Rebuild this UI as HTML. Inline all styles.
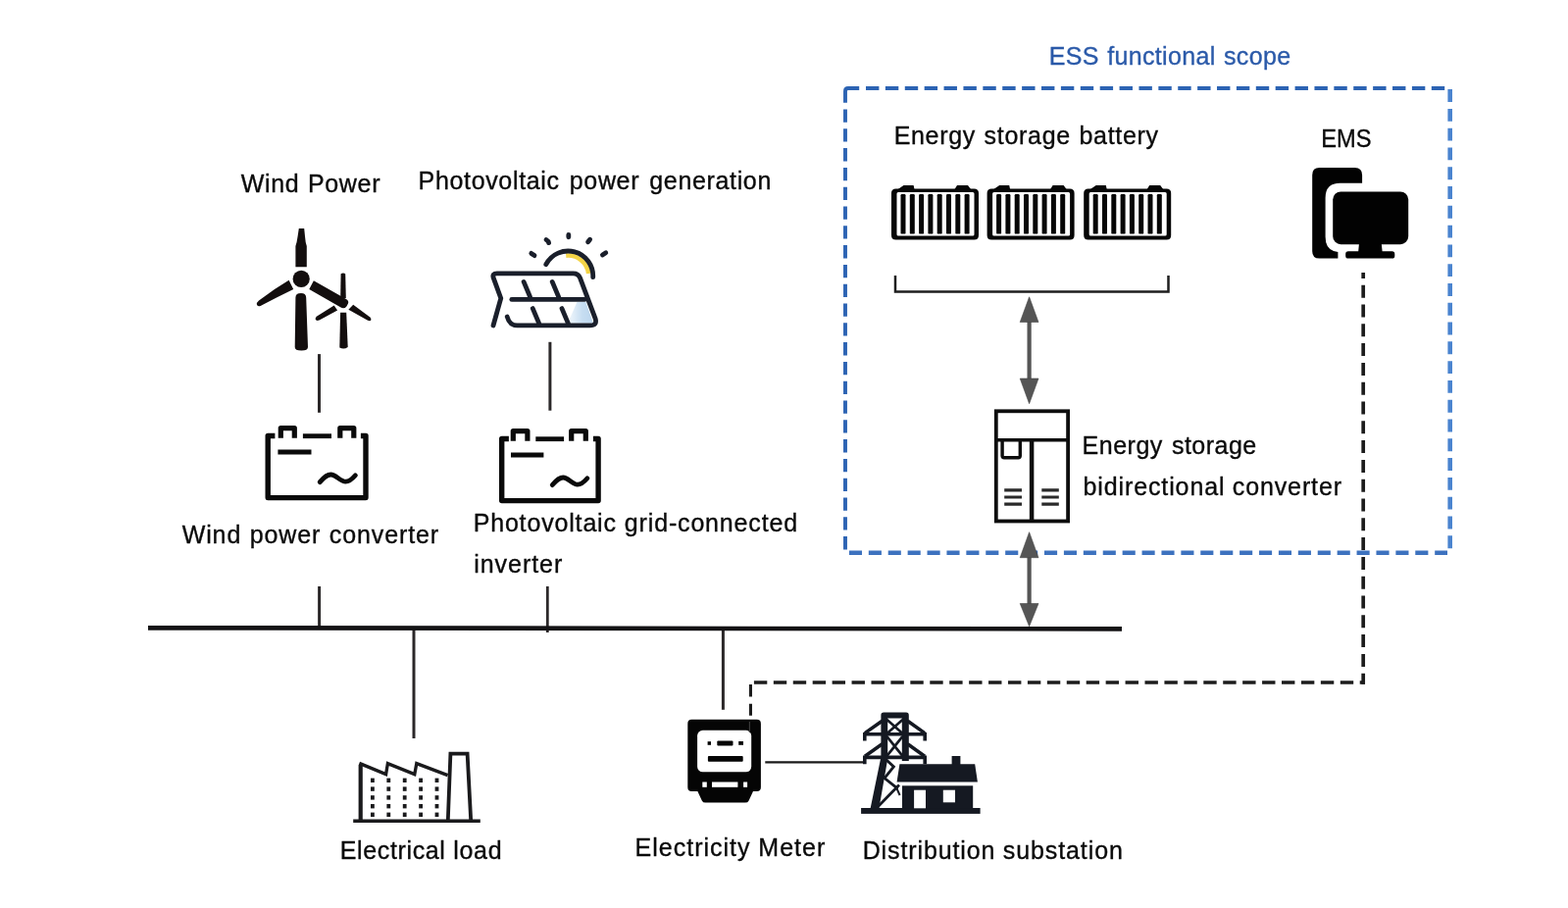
<!DOCTYPE html>
<html lang="en">
<head>
<meta charset="utf-8">
<title>ESS functional scope</title>
<style>
html,body{margin:0;padding:0;background:#fff;}
body{width:1599px;height:926px;overflow:hidden;position:relative;}
svg{position:absolute;left:0;top:0;display:block;will-change:transform;}
text{font-family:"Liberation Sans",sans-serif;font-size:25px;fill:#0a0a0a;word-spacing:3px;stroke:#0a0a0a;stroke-width:0.35px;}
.blue{fill:#2b5aa9;stroke:#2b5aa9;}
</style>
</head>
<body>
<svg width="1599" height="926" viewBox="0 0 1599 926">
<rect width="1599" height="926" fill="#ffffff"/>

<!-- ===== connection lines ===== -->
<g stroke="#2b2829" stroke-width="3" fill="none">
  <line x1="325.5" y1="361.1" x2="325.5" y2="420.8"/>
  <line x1="325.6" y1="598" x2="325.6" y2="640"/>
  <line x1="560.9" y1="348.8" x2="560.9" y2="418.7"/>
  <line x1="558.3" y1="598" x2="558.3" y2="645" stroke-width="2.8"/>
  <line x1="422" y1="640" x2="422" y2="753"/>
  <line x1="737.4" y1="640" x2="737.4" y2="723.8"/>
  <line x1="780.3" y1="777.4" x2="882" y2="777.4" stroke="#1a1a1a" stroke-width="2.2"/>
</g>
<!-- bus -->
<line x1="151" y1="640.3" x2="1144" y2="641.4" stroke="#141315" stroke-width="4.7"/>

<!-- ESS dashed box -->
<g fill="none" stroke-linecap="butt">
  <path d="M862 104.7 V93 Q862 90 865 90 H876.2" stroke="#2c63b3" stroke-width="3.9"/>
  <path d="M883 90 H1473.7" stroke="#2c63b3" stroke-width="3.8" stroke-dasharray="13.4 6.49"/>
  <path d="M862 111.5 V561" stroke="#2c63b3" stroke-width="3.9" stroke-dasharray="13.3 6.5"/>
  <path d="M865.9 563.7 H1476" stroke="#3d72bf" stroke-width="4.5" stroke-dasharray="13.1 6.81"/>
  <path d="M1478.7 91.1 V560" stroke="#4a84cf" stroke-width="4.6" stroke-dasharray="12.9 6.89"/>
</g>

<!-- EMS dashed link -->
<g fill="none" stroke="#1c1c1c" stroke-width="3.5">
  <path d="M1390.2 278 V697.7" stroke-width="3.7" stroke-dasharray="13 6.8" stroke-dashoffset="7.1"/>
  <path d="M768.9 695.9 H1392" stroke-dasharray="13.4 6.53"/>
  <path d="M765.45 698 V729.8" stroke-width="3.1" stroke-dasharray="12.6 7.1"/>
</g>

<!-- bracket -->
<path d="M913 281 V297.4 H1191.5 V281" fill="none" stroke="#1e1e1e" stroke-width="2.5"/>

<!-- arrows -->
<g fill="#555555" stroke="#444" stroke-width="0.6" stroke-linejoin="round">
  <rect x="1047.5" y="325" width="4.2" height="65" stroke="none"/>
  <polygon points="1049.6,302.8 1059,328.5 1040.2,328.5"/>
  <polygon points="1049.6,411.7 1059,386 1040.2,386"/>
  <rect x="1047.5" y="565" width="4.2" height="54" stroke="none"/>
  <polygon points="1049.6,542.7 1059,568.7 1040.2,568.7"/>
  <polygon points="1049.6,638.8 1059,615.5 1040.2,615.5"/>
</g>

<!-- ===== text ===== -->
<g id="labels">
<text x="245.69" y="195.5" textLength="141.80" lengthAdjust="spacing" style="word-spacing:0.94px">Wind Power</text>
<text x="426.62" y="192.9" textLength="359.70" lengthAdjust="spacing" style="word-spacing:2.54px">Photovoltaic power generation</text>
<text x="185.67" y="553.9" textLength="261.51" lengthAdjust="spacing" style="word-spacing:0.73px">Wind power converter</text>
<text x="482.63" y="541.8" textLength="330.45" lengthAdjust="spacing" style="word-spacing:0.24px">Photovoltaic grid-connected</text>
<text x="483.15" y="584.0" textLength="90.15" lengthAdjust="spacing" style="word-spacing:1.00px">inverter</text>
<text class="blue" x="1069.73" y="65.6" textLength="246.31" lengthAdjust="spacing" style="word-spacing:1.09px">ESS functional scope</text>
<text x="911.63" y="146.9" textLength="269.45" lengthAdjust="spacing" style="word-spacing:0.93px">Energy storage battery</text>
<text x="1347.15" y="149.8" textLength="51.29" lengthAdjust="spacingAndGlyphs">EMS</text>
<text x="1103.62" y="462.5" textLength="177.66" lengthAdjust="spacing" style="word-spacing:1.72px">Energy storage</text>
<text x="1104.51" y="504.6" textLength="263.52" lengthAdjust="spacing" style="word-spacing:-0.45px">bidirectional converter</text>
<text x="346.63" y="875.7" textLength="164.95" lengthAdjust="spacing" style="word-spacing:0.17px">Electrical load</text>
<text x="647.62" y="872.8" textLength="193.59" lengthAdjust="spacing" style="word-spacing:0.03px">Electricity Meter</text>
<text x="879.63" y="876.1" textLength="265.22" lengthAdjust="spacing" style="word-spacing:-0.36px">Distribution substation</text>
</g>
<!-- ICONS -->
<defs>
  <g id="conv" fill="none" stroke="#0a0a0a" stroke-width="5.2" stroke-linejoin="round">
    <path d="M10 10.3 H2.8 V73.4 H102.6 V10.3 H97.5" stroke-width="5.4"/>
    <path d="M15.9 12.5 V2.4 H29.9 V12.5"/>
    <path d="M76.4 12.5 V2.4 H90.4 V12.5"/>
    <path d="M38.5 10.5 H67.6" stroke-width="4.8"/>
    <path d="M13 26.8 H47.1" stroke-width="5"/>
    <path d="M55.8 57.4 C59.5 53 63 49.8 67 49.8 C72 49.8 77 57 82 57 C86 57 89.5 53.5 92 50.6" stroke-width="4.8" stroke-linecap="round"/>
  </g>
  <g id="conv2" fill="none" stroke="#0a0a0a" stroke-width="5.2" stroke-linejoin="round">
    <path d="M10 10.3 H2.8 V73.4 H101.2 V10.3 H96" stroke-width="5.4"/>
    <path d="M14.4 12.5 V2.4 H29 V12.5"/>
    <path d="M73.8 12.5 V2.4 H88.4 V12.5"/>
    <path d="M37.4 10.5 H66.2" stroke-width="4.8"/>
    <path d="M12.1 26.8 H45.5" stroke-width="5"/>
    <path d="M54.4 57.4 C58 53 61.5 49.8 65.4 49.8 C70.4 49.8 75 57 80 57 C84 57 87.5 53.5 90 50.6" stroke-width="4.8" stroke-linecap="round"/>
  </g>
  <g id="batt" fill="#060606">
    <path d="M6 4.5 L12.5 0 H22.6 L23.6 4.5 Z M64.2 4.5 L67 0 H78 L81.4 4.5 Z"/>
    <path fill-rule="evenodd" d="M4.6 3.5 H84.4 Q89 3.5 89 8.1 V50.9 Q89 55.5 84.4 55.5 H4.6 Q0 55.5 0 50.9 V8.1 Q0 3.5 4.6 3.5 Z M7 7 Q5.5 7 5.5 8.5 V50 Q5.5 51.5 7 51.5 H83 Q84.5 51.5 84.5 50 V8.5 Q84.5 7 83 7 Z"/>
    <rect x="9.5" y="9" width="5" height="40.6" rx="1.2"/>
    <rect x="18.8" y="9" width="5" height="40.6" rx="1.2"/>
    <rect x="28.1" y="9" width="5" height="40.6" rx="1.2"/>
    <rect x="37.4" y="9" width="5" height="40.6" rx="1.2"/>
    <rect x="46.7" y="9" width="5" height="40.6" rx="1.2"/>
    <rect x="56" y="9" width="5" height="40.6" rx="1.2"/>
    <rect x="65.3" y="9" width="5" height="40.6" rx="1.2"/>
    <rect x="74.6" y="9" width="5" height="40.6" rx="1.2"/>
  </g>
</defs>

<!-- wind turbines -->
<g fill="#130e0e">
  <circle cx="307.2" cy="284.4" r="8.6"/>
  <path d="M304.8 233 H310.2 L311 241 Q311.4 247 312.8 251 V272.2 H301.4 V251 Q302.8 247 303.6 241 Z"/>
  <path d="M301.4 303.4 Q301.4 299 307 299 Q312 299 312.2 303.4 L314 354 Q314 357.6 307.4 357.6 Q300.6 357.6 300.7 354 Z"/>
  <path d="M294.6 285.8 L299.2 295 L282 303.6 L265.6 312 Q262.4 313 261.9 310.6 Q261.6 308.6 264 306.6 L280 295 Z"/>
  <path d="M319.9 286.2 L315.3 295 L347.6 313.6 Q351 315.4 353.4 312.4 L355 309.6 Q356 306.6 353 305 Z"/>
  <path d="M347.6 279.2 Q350 277.6 352.2 279.2 L352.8 304 H347.2 Z"/>
  <path d="M347.1 318.8 H353.2 L354.7 354 Q350.6 356.8 346.3 354.4 Z"/>
  <path d="M340.7 311.4 L344.1 316.6 L325.6 326.4 Q322.6 327.6 321.7 325.8 Q321.3 324.2 323.2 322.6 Z"/>
  <path d="M360.2 310.8 L355.4 315.8 L374.6 326.6 Q377.6 328 378.4 326.2 Q378.8 324.8 377 323.2 Z"/>
</g>

<!-- solar panel -->
<defs>
  <linearGradient id="pvblue" x1="0" y1="0" x2="1" y2="0">
    <stop offset="0" stop-color="#eef5fb"/>
    <stop offset="0.55" stop-color="#c6ddf1"/>
    <stop offset="1" stop-color="#bcd6ee"/>
  </linearGradient>
</defs>
<g fill="none" stroke="#1a1f2b" stroke-width="4.8" stroke-linecap="round" stroke-linejoin="round">
  <path d="M577.2 260.6 A21 21 0 0 1 600.2 279" stroke="#f4d447" stroke-width="4.6" stroke-linecap="butt"/>
  <path d="M580.6 326 L588.4 308 H597.4 L605 329.6 H581 Z" fill="url(#pvblue)" stroke="none"/>
  <path d="M556.8 269.7 A25.4 25.4 0 0 1 604.7 282.7"/>
  <path d="M541.8 258.4 L545 260.6"/>
  <path d="M557 244.6 Q559.2 246 559.6 247.6"/>
  <path d="M579.8 239.4 V241.8"/>
  <path d="M601.6 244.2 L599.6 246.8"/>
  <path d="M617.8 257.8 L614.4 260"/>
  <path d="M503 332 L510.8 304.2 L503.2 283.4 Q501.6 278.8 506.8 278.8 H584.6 Q589.6 278.8 591.4 283.2 L607 324.6 Q609.4 331.9 601.6 331.9 H527.4 Q519.6 331.9 517.2 323"/>
  <path d="M521.8 305.4 H596.2"/>
  <path d="M534.1 287.4 L540.5 302.6"/>
  <path d="M563.2 287.4 L569.6 302.6"/>
  <path d="M543.3 314.6 L549.6 329.6"/>
  <path d="M573 314.6 L579.3 329.6"/>
</g>

<!-- converters -->
<use href="#conv" x="270.4" y="434.2"/>
<use href="#conv2" x="508.9" y="437.2"/>

<!-- batteries -->
<use href="#batt" x="909" y="189"/>
<use href="#batt" x="1006.6" y="189"/>
<use href="#batt" x="1105.2" y="189"/>

<!-- EMS icon -->
<g fill="#020202">
  <path d="M1345.6 171 H1381.6 Q1389.1 171 1389.1 178.5 V186.7 H1366.6 Q1351.6 186.7 1351.6 201.7 V241.4 Q1351.6 255.6 1364.4 257 V263.6 H1345.6 Q1338.2 263.6 1338.2 256.2 V178.4 Q1338.2 171 1345.6 171 Z"/>
  <rect x="1359.2" y="195.4" width="77" height="53.8" rx="8.2"/>
  <path d="M1386 248 H1408.7 L1409.6 256.2 H1419.6 Q1422.3 256.2 1422.3 258.9 V260.9 Q1422.3 263.6 1419.6 263.6 H1375 Q1372.2 263.6 1372.2 260.9 V258.9 Q1372.2 256.2 1375 256.2 H1385.2 Z"/>
</g>

<!-- bidirectional converter cabinet -->
<g fill="none" stroke="#0d0d0d" stroke-width="3.8">
  <rect x="1015.8" y="419.3" width="73.3" height="112.2"/>
  <path d="M1015.8 448.7 H1089.1" stroke-width="3.4"/>
  <path d="M1052.1 448.7 V531.5" stroke-width="4.5"/>
  <path d="M1022.1 449 V464.8 Q1022.1 466.8 1024.1 466.8 H1038.3 Q1040.3 466.8 1040.3 464.8 V449" stroke-width="3.4"/>
  <g stroke-width="3.2" stroke="#2a2a2a">
    <path d="M1024.2 499.9 H1042 M1024.2 507 H1042 M1024.2 514.2 H1042"/>
    <path d="M1062.3 499.9 H1079.8 M1062.3 507 H1079.8 M1062.3 514.2 H1079.8"/>
  </g>
</g>

<!-- factory -->
<g fill="none" stroke="#1a1a1c" stroke-width="3.4" stroke-linejoin="miter">
  <path d="M360.2 837.2 H489.8" stroke-width="3.6"/>
  <path d="M367.7 837 V780" stroke-width="4.2"/>
  <path d="M366.4 778.4 L393.6 789.6 L395.4 778.6 L422.8 789.6 L424.8 778.6 L456.6 790.6" stroke-width="3.3"/>
  <path d="M456.8 837 L459.4 768.6 H476.6 L480.2 837" stroke-width="3.8"/>
</g>
<g fill="#1a1a1c">
  <g id="wrow">
    <rect x="378" y="793.6" width="3.8" height="4.4"/><rect x="394.4" y="793.6" width="3.8" height="4.4"/><rect x="410.8" y="793.6" width="3.8" height="4.4"/><rect x="427.2" y="793.6" width="3.8" height="4.4"/><rect x="443.6" y="793.6" width="3.8" height="4.4"/>
  </g>
  <use href="#wrow" y="8.8"/><use href="#wrow" y="17.6"/><use href="#wrow" y="26.4"/><use href="#wrow" y="35"/>
</g>

<!-- electricity meter -->
<g>
  <path d="M705.4 733.8 H771.8 Q775.9 733.8 775.9 737.9 V803 Q775.9 807.1 771.8 807.1 H768 L763.6 816.4 Q762.5 818.6 760 818.6 H719.4 Q716.9 818.6 715.8 816.4 L711.4 807.1 H705.4 Q701.3 807.1 701.3 803 V737.9 Q701.3 733.8 705.4 733.8 Z" fill="#050505"/>
  <rect x="711.1" y="744.8" width="55.1" height="42.5" rx="5.5" fill="#fff"/>
  <path d="M764.4 736 V747" stroke="#3a3a3a" stroke-width="1.2" fill="none"/>
  <g fill="#050505">
    <rect x="721.6" y="756.2" width="3.4" height="3.6"/>
    <rect x="731.3" y="755.4" width="16.2" height="5.1" rx="1"/>
    <rect x="753.2" y="756" width="4.8" height="3.8"/>
    <rect x="721.9" y="771.1" width="35.8" height="5.6" rx="1"/>
  </g>
  <g fill="#fff">
    <rect x="716.3" y="797.5" width="4.5" height="5.3"/>
    <rect x="726" y="797.5" width="26.4" height="5.3"/>
    <rect x="758.1" y="797.5" width="4" height="5.3"/>
  </g>
</g>

<!-- substation -->
<g fill="#151922" stroke="none">
  <rect x="878.1" y="824" width="121.5" height="5.9"/>
  <path d="M917.4 779.2 H994.2 L996.9 797.4 H914.6 Z"/>
  <rect x="970.6" y="771" width="8.8" height="9"/>
  <rect x="920" y="801.3" width="72.2" height="23.5"/>
  <path d="M901.2 726.6 H924 Q926.8 726.6 926.8 729.4 V776 H919.8 V732.6 H905.2 V774 L896.4 824.6 H887.6 L898.4 772 V729.4 Q898.4 726.6 901.2 726.6 Z"/>
</g>
<rect x="932.1" y="805.7" width="11.9" height="18.6" fill="#fff"/>
<rect x="961.8" y="805.7" width="12.2" height="12.6" fill="#fff"/>
<g fill="none" stroke="#151922" stroke-linejoin="miter" stroke-linecap="butt">
  <path d="M881.8 755.6 V748.8 H943.2 V755.6" stroke-width="3.6"/>
  <path d="M882 747.6 L899.6 735.2 M943 747.6 L925.6 735.2" stroke-width="3.6"/>
  <path d="M881.8 779.2 V772.4 H943.2 V779.2" stroke-width="3.6"/>
  <path d="M882 771.2 L899.6 758.8 M943 771.2 L925.6 758.8" stroke-width="3.6"/>
  <path d="M904.6 734 L920.4 748 M920.4 734 L904.6 748" stroke-width="2.6"/>
  <path d="M904.4 751 L920.4 771 M920.4 751 L904.4 771" stroke-width="2.8"/>
  <path d="M904 775 L911.4 782 L902 793.6 L915.6 804.4 M917 800.6 L909.8 807.8 L895 823" stroke-width="2.8"/>
  <path d="M913.4 801.6 L917.6 811" stroke-width="2"/>
</g>
</svg>
</body>
</html>
